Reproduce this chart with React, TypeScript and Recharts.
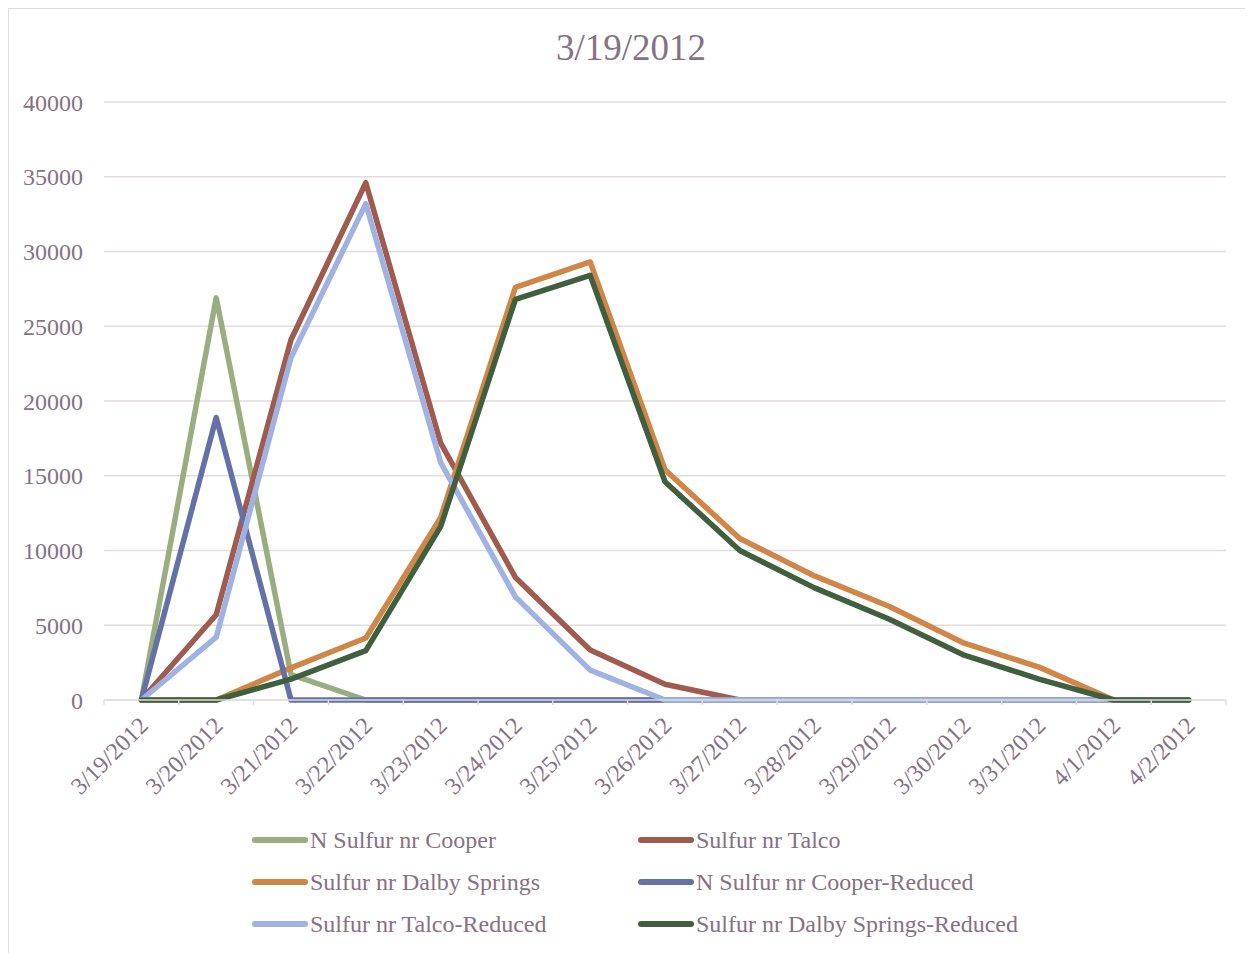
import React from 'react';
import { LineChart, Line, XAxis, YAxis, CartesianGrid } from 'recharts';

// Sampling dates (category axis)
const dates = [
  '3/19/2012', '3/20/2012', '3/21/2012', '3/22/2012', '3/23/2012',
  '3/24/2012', '3/25/2012', '3/26/2012', '3/27/2012', '3/28/2012',
  '3/29/2012', '3/30/2012', '3/31/2012', '4/1/2012', '4/2/2012',
];

// Series values per date
const nSulfurCooper = [0, 26900, 1700, 0, 0, 0, 0, 0, 0, 0, 0, 0, 0, 0, 0];
const sulfurTalco = [0, 5700, 24100, 34600, 17200, 8200, 3350, 1050, 0, 0, 0, 0, 0, 0, 0];
const sulfurDalby = [0, 0, 2150, 4150, 12200, 27600, 29300, 15400, 10800, 8300, 6250, 3800, 2200, 0, 0];
const nSulfurCooperReduced = [0, 18900, 0, 0, 0, 0, 0, 0, 0, 0, 0, 0, 0, 0, 0];
const sulfurTalcoReduced = [0, 4200, 22900, 33200, 15900, 6900, 2000, 0, 0, 0, 0, 0, 0, 0, 0];
const sulfurDalbyReduced = [0, 0, 1400, 3300, 11600, 26800, 28400, 14600, 10000, 7500, 5400, 3000, 1400, 0, 0];

const yTicks = [0, 5000, 10000, 15000, 20000, 25000, 30000, 35000, 40000];

const seriesDefs = [
  { key: 'N Sulfur nr Cooper', values: nSulfurCooper, color: '#9aad80' },
  { key: 'Sulfur nr Talco', values: sulfurTalco, color: '#9e5b4e' },
  { key: 'Sulfur nr Dalby Springs', values: sulfurDalby, color: '#cf8647' },
  { key: 'N Sulfur nr Cooper-Reduced', values: nSulfurCooperReduced, color: '#6571a6' },
  { key: 'Sulfur nr Talco-Reduced', values: sulfurTalcoReduced, color: '#9fb2e2' },
  { key: 'Sulfur nr Dalby Springs-Reduced', values: sulfurDalbyReduced, color: '#405f3e' },
];

const data = dates.map((d, i) => {
  const row: Record<string, string | number> = { date: d };
  seriesDefs.forEach((s) => {
    row[s.key] = s.values[i];
  });
  return row;
});

const TEXT_COLOR = '#857283';
const FONT = '"Liberation Serif", "Times New Roman", serif';
const GRID_COLOR = '#e2dcdf';

const W = 1245;
const H = 945;
const MARGIN = { top: 94, right: 27, bottom: 0, left: 0 };
const PLOT_W = W - 96 - MARGIN.right;
const BAND = PLOT_W / dates.length;

const XTick = (props: any) => {
  const { x, y, payload } = props;
  const idx = dates.indexOf(payload.value);
  const left = x - BAND / 2;
  const right = x + BAND / 2;
  return (
    <g>
      <line x1={left} y1={y} x2={left} y2={y + 5} stroke={GRID_COLOR} strokeWidth={1.5} />
      {idx === dates.length - 1 && (
        <line x1={right} y1={y} x2={right} y2={y + 5} stroke={GRID_COLOR} strokeWidth={1.5} />
      )}
      <text
        x={x + 8}
        y={y + 27}
        textAnchor="end"
        fill={TEXT_COLOR}
        fontFamily={FONT}
        fontSize={24}
        transform={`rotate(-45, ${x + 8}, ${y + 27})`}
      >
        {payload.value}
      </text>
    </g>
  );
};

const legendCols = [244, 630];
const legendRows = [832, 874, 916];

export default function App() {
  return (
    <div style={{ position: 'relative', width: W, height: H, overflow: 'hidden', background: '#fff' }}>
      <div
        style={{
          position: 'absolute',
          left: 0,
          top: 0,
          width: W + 10,
          height: H + 10,
          borderLeft: `1.5px solid ${GRID_COLOR}`,
          borderTop: `1.5px solid ${GRID_COLOR}`,
          boxSizing: 'border-box',
        }}
      />
      <div
        style={{
          position: 'absolute',
          left: 0,
          width: 1246,
          top: 20,
          textAlign: 'center',
          fontFamily: FONT,
          fontSize: 37,
          color: TEXT_COLOR,
          lineHeight: '40px',
        }}
      >
        3/19/2012
      </div>
      <div style={{ position: 'absolute', left: 0, top: 0 }}>
        <LineChart width={W} height={H} data={data} margin={MARGIN}>
          <CartesianGrid vertical={false} stroke={GRID_COLOR} strokeWidth={1.5} />
          <XAxis
            dataKey="date"
            interval={0}
            padding={{ left: BAND / 2, right: BAND / 2 }}
            height={253}
            tickLine={false}
            tickSize={0}
            tickMargin={0}
            axisLine={{ stroke: GRID_COLOR, strokeWidth: 1.5 }}
            tick={<XTick />}
          />
          <YAxis
            width={96}
            domain={[0, 40000]}
            ticks={yTicks}
            interval={0}
            axisLine={false}
            tickLine={false}
            tickSize={0}
            tickMargin={21}
            tick={{ fill: TEXT_COLOR, fontFamily: FONT, fontSize: 24 }}
          />
          {seriesDefs.map((s) => (
            <Line
              key={s.key}
              type="linear"
              dataKey={s.key}
              stroke={s.color}
              strokeWidth={5.5}
              strokeLinejoin="round"
              strokeLinecap="round"
              dot={false}
              activeDot={false}
              isAnimationActive={false}
            />
          ))}
        </LineChart>
      </div>
      {seriesDefs.map((s, i) => {
        const col = legendCols[i % 2];
        const row = legendRows[Math.floor(i / 2)];
        return (
          <div
            key={s.key}
            style={{
              position: 'absolute',
              left: col,
              top: row - 15,
              height: 30,
              display: 'flex',
              alignItems: 'center',
              fontFamily: FONT,
              fontSize: 24,
              color: TEXT_COLOR,
              whiteSpace: 'nowrap',
            }}
          >
            <span
              style={{
                display: 'inline-block',
                width: 56,
                height: 5.5,
                borderRadius: 3,
                background: s.color,
                marginRight: 2,
              }}
            />
            <span>{s.key}</span>
          </div>
        );
      })}
    </div>
  );
}
